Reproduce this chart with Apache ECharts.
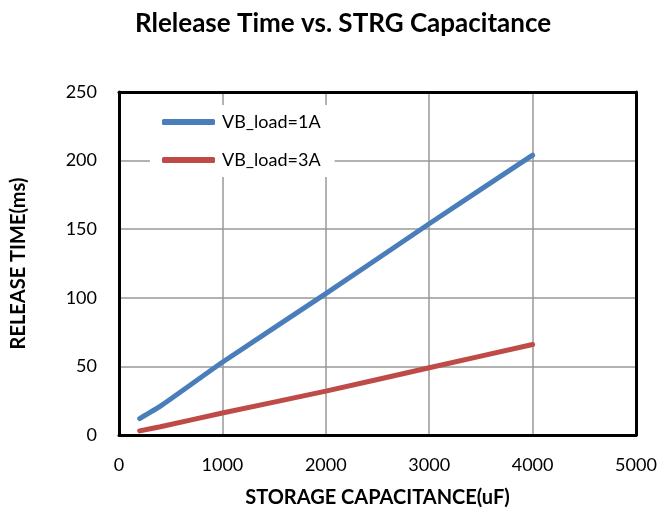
<!DOCTYPE html>
<html><head><meta charset="utf-8">
<script src="https://cdn.jsdelivr.net/npm/echarts@6/dist/echarts.min.js"></script>
<style>html,body{margin:0;padding:0;background:#fff}#c{width:661px;height:508px}</style>
</head><body><div id="c"></div>
<script>
var capacitance = [200, 400, 1000, 2000, 3000, 4000];
var load1A = [12, 21, 53, 103, 154, 204];
var load3A = [3, 6, 16, 32, 49, 66];
var seriesNames = ['VB_load=1A', 'VB_load=3A'];
var titleText = 'Rlelease Time vs. STRG Capacitance';
var xName = 'STORAGE CAPACITANCE(uF)';
var yName = 'RELEASE TIME(ms)';

var font = 'Lato, "Open Sans", sans-serif';
var chart = echarts.init(document.getElementById('c'));
function pairs(xs, ys){ return xs.map(function(x,i){ return [x, ys[i]]; }); }
var frameAxis = { show: true, axisLine: { show: true, onZero: false, lineStyle: { color: '#000', width: 3 } },
  axisTick: { show: false }, axisLabel: { show: false }, splitLine: { show: false } };
chart.setOption({
  animation: false,
  title: { text: titleText, left: 338, textAlign: 'center', top: 6,
    textStyle: { fontFamily: font, fontWeight: 'bold', fontSize: 26, color: '#000' } },
  grid: { left: 119, right: 25, top: 92, bottom: 73, outerBoundsMode: 'none', containLabel: false },
  legend: {
    orient: 'vertical', left: 150, top: 105, itemWidth: 53, itemHeight: 6, itemGap: 20,
    backgroundColor: '#fff', padding: [8, 14, 8, 12],
    icon: 'roundRect',
    textStyle: { fontFamily: font, fontSize: 18, color: '#000', padding: [0,0,0,2] },
    data: seriesNames
  },
  xAxis: [{
    type: 'value', min: 0, max: 5000, interval: 1000,
    name: xName, nameLocation: 'middle', nameGap: 53,
    nameTextStyle: { fontFamily: font, fontWeight: 'bold', fontSize: 20, color: '#000' },
    axisLine: { show: true, lineStyle: { color: '#000', width: 3 } },
    axisTick: { show: false },
    axisLabel: { fontFamily: font, fontSize: 18, color: '#000', margin: 21,
      formatter: function(v){ return String(v); } },
    splitLine: { show: true, lineStyle: { color: '#999', width: 1.5 } }
  }, Object.assign({ type: 'value', position: 'top', min: 0, max: 5000 }, frameAxis)],
  yAxis: [{
    type: 'value', min: 0, max: 250, interval: 50,
    name: yName, nameLocation: 'middle', nameGap: 90, nameRotate: 90,
    nameTextStyle: { fontFamily: font, fontWeight: 'bold', fontSize: 20, color: '#000' },
    axisLine: { show: true, lineStyle: { color: '#000', width: 3 } },
    axisTick: { show: false },
    axisLabel: { fontFamily: font, fontSize: 18, color: '#000', margin: 22 },
    splitLine: { show: true, lineStyle: { color: '#999', width: 1.5 } }
  }, Object.assign({ type: 'value', position: 'right', min: 0, max: 250 }, frameAxis)],
  series: [
    { name: seriesNames[0], type: 'line', data: pairs(capacitance, load1A), showSymbol: false, smooth: 0.15,
      itemStyle: { color: '#4a7ebb' }, lineStyle: { color: '#4a7ebb', width: 5, cap: 'round' }, z: 3 },
    { name: seriesNames[1], type: 'line', data: pairs(capacitance, load3A), showSymbol: false, smooth: 0.15,
      itemStyle: { color: '#be4b48' }, lineStyle: { color: '#be4b48', width: 5, cap: 'round' }, z: 3 }
  ]
});
</script></body></html>
